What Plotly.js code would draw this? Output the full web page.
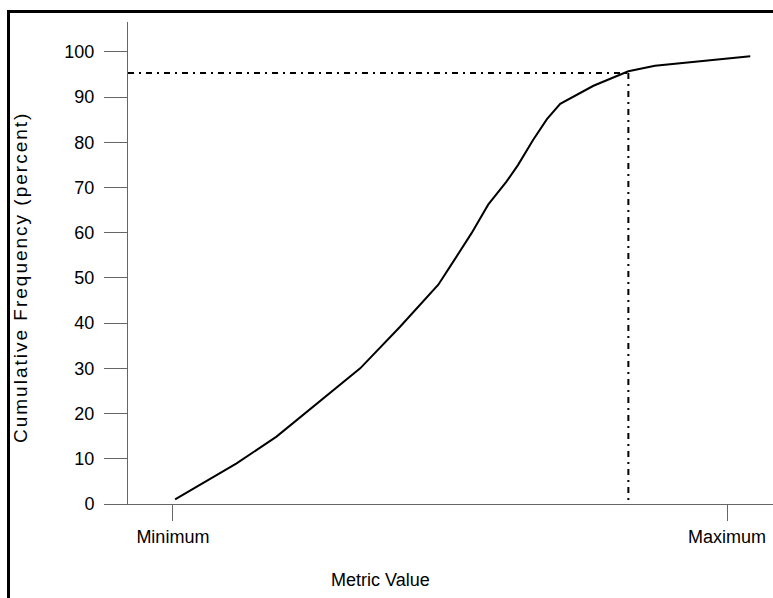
<!DOCTYPE html>
<html>
<head>
<meta charset="utf-8">
<script src="https://cdn.plot.ly/plotly-3.0.1.min.js"></script>
<style>
  html, body { margin: 0; padding: 0; background: #fff; overflow: hidden; }
  #chart { position: absolute; left: 0; top: 0; width: 773px; height: 598px; }
  #frame { position: absolute; left: 7px; top: 10px; width: 800px; height: 620px;
           border-top: 3px solid #000; border-left: 3px solid #000; pointer-events: none; }
</style>
</head>
<body>
<div id="chart"></div>
<div id="frame"></div>
<script>
// Data (x: 0 = Minimum, 100 = Maximum of the metric; y: cumulative percent)
const metricX = [0.4, 11.5, 18.7, 28.3, 33.8, 41.0, 47.9, 50.6, 53.9, 56.9, 60.2, 62.3, 65.0, 67.5, 69.9, 75.9, 82.2, 87.0, 104.2];
const cumPct  = [1.0, 9.0, 14.9, 24.5, 30.0, 39.2, 48.5, 53.6, 59.9, 66.2, 71.3, 75.0, 80.5, 85.1, 88.5, 92.5, 95.7, 96.9, 99.0];
const refX = 82.2;   // metric value at the reference percentile
const refY = 95.3;   // reference percentile
const xTickVals = [0, 100];
const xTickText = ['Minimum', 'Maximum'];
const yTickVals = [0, 10, 20, 30, 40, 50, 60, 70, 80, 90, 100];
const xTitle = 'Metric Value';
const yTitle = 'Cumulative Frequency (percent)';

const xRange = [-8.1, 108.3];
const yRange = [0, 106.6];
const FONT = '"Liberation Sans", Arial, sans-serif';
const dashPat = '6px,5px,2px,5px';

const traces = [
  { x: metricX, y: cumPct, mode: 'lines', line: { color: '#000', width: 2 }, hoverinfo: 'skip' },
  { x: [xRange[0], refX], y: [refY, refY], mode: 'lines', line: { color: '#000', width: 2, dash: dashPat }, hoverinfo: 'skip' },
  { x: [refX, refX], y: [refY, 0], mode: 'lines', line: { color: '#000', width: 2, dash: dashPat }, hoverinfo: 'skip' }
];

const layout = {
  width: 773, height: 598,
  margin: { l: 128, r: 0, t: 22, b: 94, pad: 0 },
  paper_bgcolor: '#fff', plot_bgcolor: '#fff',
  showlegend: false,
  font: { family: FONT, size: 18, color: '#000' },
  xaxis: {
    range: xRange, showgrid: false, zeroline: false,
    showline: true, linecolor: '#666', linewidth: 1,
    ticks: 'outside', ticklen: 16, tickwidth: 1, tickcolor: '#666',
    tickvals: xTickVals, ticktext: xTickText,
    tickfont: { family: FONT, size: 18, color: '#000' }
  },
  yaxis: {
    range: yRange, showgrid: false, zeroline: false,
    showline: true, linecolor: '#666', linewidth: 1,
    ticks: 'outside', ticklen: 23, tickwidth: 1, tickcolor: '#666',
    ticklabelstandoff: 6,
    tickvals: yTickVals,
    tickfont: { family: FONT, size: 18, color: '#000' }
  },
  annotations: [
    { text: xTitle, xref: 'paper', yref: 'paper', x: (380 - 128) / 645, y: (504 - 580) / 482,
      xanchor: 'center', yanchor: 'middle', showarrow: false,
      font: { family: FONT, size: 18, color: '#000' } },
    { text: yTitle, xref: 'paper', yref: 'paper', x: (20 - 128) / 645, y: (504 - 278) / 482,
      xanchor: 'center', yanchor: 'middle', textangle: -90, showarrow: false,
      font: { family: FONT, size: 19, color: '#000' } }
  ]
};

Plotly.newPlot('chart', traces, layout, { displayModeBar: false, staticPlot: true }).then(function () {
  const anns = document.querySelectorAll('.annotation-text');
  if (anns.length > 1) { anns[1].style.letterSpacing = '2px'; }
});
</script>
</body>
</html>
